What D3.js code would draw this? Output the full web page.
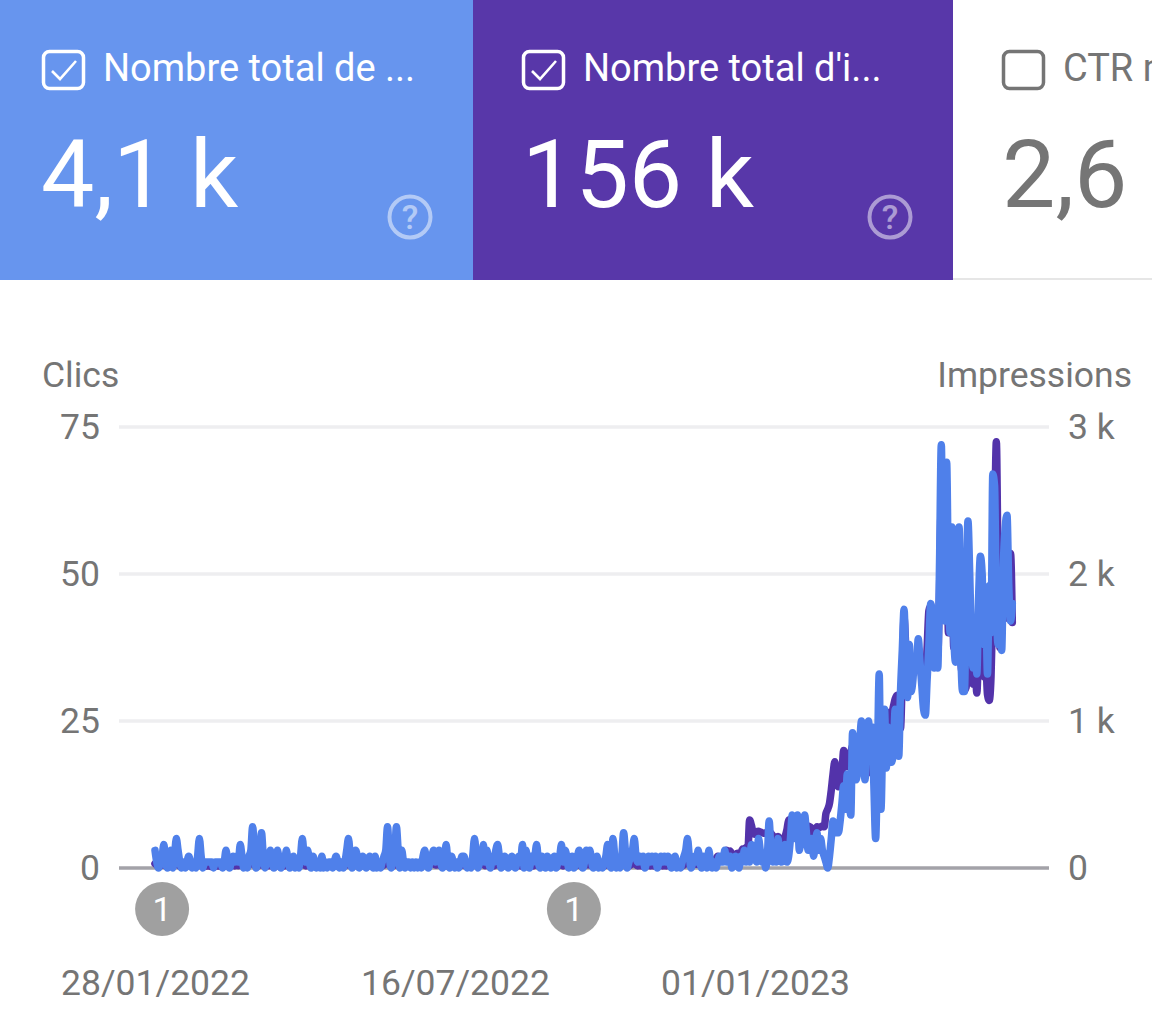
<!DOCTYPE html>
<html>
<head>
<meta charset="utf-8">
<script src="https://cdn.jsdelivr.net/npm/d3@7"></script>
<style>
    html, body { margin: 0; padding: 0; background: #fff; overflow: hidden; }
    svg { display: block; font-family: Roboto, sans-serif; }
    .tick line, .domain { display: none; }
    .tick text { font-family: Roboto, sans-serif; font-size: 35.5px; fill: #757575; }
</style>
</head>
<body>
<div id="chart"></div>
<script>
// Daily clicks, from 28/01/2022
const clicks = [
    3,1,0,1,2,4,1,0,1,3,0,2,5,3,1,0,1,0,1,2,
    1,0,1,0,2,5,2,0,1,1,1,1,1,0,1,1,1,1,0,1,
    3,1,0,1,2,1,2,1,4,2,0,1,0,2,3,7,3,0,1,2,
    6,2,0,1,1,3,1,0,1,3,1,0,2,1,3,1,0,1,2,0,
    1,0,2,5,2,1,3,1,0,2,1,0,1,0,2,0,1,0,1,1,
    0,1,2,1,0,1,0,1,3,5,2,0,1,3,2,0,1,2,1,0,
    1,2,1,0,2,0,1,0,1,2,3,7,2,0,1,2,7,3,0,3,
    1,0,1,1,0,1,0,1,0,1,0,2,3,1,0,1,2,3,1,2,
    3,1,0,1,4,1,0,2,1,0,1,0,1,2,2,1,0,1,0,2,
    5,2,0,1,1,4,1,3,1,0,2,1,3,4,2,0,1,2,1,0,
    1,2,1,0,1,2,1,4,0,3,1,0,2,1,2,4,1,0,2,1,
    0,2,1,0,1,2,0,1,2,4,1,3,2,0,1,2,0,1,2,3,
    1,0,1,3,2,3,1,0,1,2,0,1,0,1,2,4,1,0,5,2,
    0,1,0,2,6,3,0,1,2,3,5,2,1,2,1,2,0,1,2,1,
    2,1,2,0,1,2,1,2,1,2,1,0,1,2,0,1,0,1,2,3,
    5,2,0,1,2,1,3,1,0,2,1,0,3,1,0,1,0,1,2,1,
    1,3,1,2,2,0,1,2,1,0,2,1,3,1,2,1,4,3,2,1,
    5,3,1,2,0,2,8,3,1,2,1,5,2,1,3,4,1,2,5,9,
    6,5,9,3,5,4,9,6,3,3,5,2,4,6,3,5,3,2,1,0,
    2,5,8,7,6,6,8,11,14,10,16,12,9,23,20,15,17,21,25,20,
    15,22,25,20,24,14,5,18,33,10,22,27,17,24,22,18,20,27,25,19,
    30,37,44,35,29,38,30,32,36,34,39,35,31,27,26,32,38,45,43,34,
    42,34,52,72,45,42,69,48,40,58,40,35,50,58,37,30,30,45,59,50,
    38,34,40,33,46,53,50,38,45,33,48,40,67,65,45,38,50,37,52,58,
    60,48,42,45
];

// Daily impressions, same dates
const impressions = [
    30,20,10,15,25,40,15,8,20,35,12,25,40,28,12,8,14,10,18,30,
    15,10,14,8,25,40,20,8,12,14,15,12,10,8,12,15,14,12,8,14,
    30,15,8,14,22,14,24,15,35,20,8,14,10,22,30,50,28,8,14,22,
    45,22,8,14,15,30,14,8,12,30,15,8,22,14,30,15,8,14,22,10,
    14,8,22,40,24,14,30,14,8,22,14,8,14,10,20,8,14,10,14,12,
    10,14,22,14,8,14,10,14,30,40,22,10,14,28,22,10,14,22,14,10,
    14,22,14,10,22,10,14,10,14,22,30,50,24,10,14,22,55,30,10,30,
    14,10,14,15,10,14,10,14,10,14,10,25,30,20,35,50,55,35,20,25,
    30,15,10,14,35,14,10,22,14,10,14,10,14,22,24,14,10,14,10,22,
    40,50,70,60,30,35,15,30,14,10,22,14,30,35,22,10,14,22,14,10,
    14,22,14,10,14,22,14,35,10,30,14,10,22,14,22,35,14,10,22,14,
    10,22,14,10,14,22,10,14,22,35,14,30,22,10,14,22,10,14,22,30,
    14,10,14,30,22,30,14,10,14,22,10,14,10,14,22,35,25,30,40,35,
    60,70,65,50,50,35,20,14,22,30,40,22,14,22,14,22,10,14,22,14,
    22,14,22,10,14,22,14,22,14,22,14,10,14,22,10,14,10,14,22,30,
    40,30,15,20,35,25,50,30,15,40,60,45,70,50,30,45,60,80,60,70,
    80,100,120,110,115,90,70,85,100,70,95,130,110,140,120,326,290,240,230,247,
    250,245,240,236,240,230,225,236,220,210,205,215,200,195,190,215,260,326,330,320,
    300,320,310,300,330,320,300,290,285,280,270,230,190,280,275,280,285,280,370,400,
    440,530,640,723,620,553,580,650,800,750,690,720,780,830,760,700,760,825,780,700,
    720,640,700,780,850,900,700,600,950,820,980,850,1000,960,1060,1050,1100,1150,1176,1000,
    950,1300,1700,1500,1300,1450,1250,1350,1400,1350,1500,1400,1300,1210,1300,1500,1750,1780,1700,1550,
    1600,1450,1900,2500,1820,1700,2400,1600,1600,2000,1500,1500,1800,1900,1400,1300,1210,1230,1700,1500,
    1300,1250,1400,1190,1500,1650,1500,1300,1400,1180,1140,1300,1800,2300,2900,2000,1500,1700,1800,1900,
    1700,1900,2140,1670
];

const clickTicks = [0, 25, 50, 75];
const impressionTicks = [0, 1000, 2000, 3000];
const impressionTickLabels = ['0', '1 k', '2 k', '3 k'];
const dateTicks = ['2022-01-28', '2022-07-16', '2023-01-01'];
const annotationDates = ['2022-02-01', '2022-09-21'];

const cardTitles = ['Nombre total de ...', "Nombre total d'i...", 'CTR m'];
const cardValues = ['4,1 k', '156 k', '2,6'];
const cardChecked = [true, true, false];
const cardFills = ['#6795ee', '#5837a9', '#ffffff'];

const parseDate = d3.utcParse('%Y-%m-%d');
const startDate = parseDate(dateTicks[0]);
const formatDate = d3.utcFormat('%d/%m/%Y');
const dates = clicks.map((d, i) => d3.utcDay.offset(startDate, i));

const svg = d3.select('#chart').append('svg')
    .attr('width', 1152)
    .attr('height', 1034);

/*
** Scorecards
 */
const cardX = d3.scaleOrdinal().domain([0, 1, 2]).range([0, 473, 953]);
const cardW = d3.scaleOrdinal().domain([0, 1, 2]).range([473, 480, 199]);

const cards = svg.selectAll('g.card')
    .data(cardTitles)
    .join('g')
    .attr('class', 'card')
    .attr('transform', (d, i) => `translate(${cardX(i)},0)`);

cards.append('rect')
    .attr('width', (d, i) => cardW(i))
    .attr('height', 280)
    .attr('fill', (d, i) => cardFills[i]);

cards.append('rect')
    .attr('x', (d, i) => i === 0 ? 43.5 : 50.5)
    .attr('y', 51.5)
    .attr('width', 40)
    .attr('height', 37)
    .attr('rx', 6)
    .attr('fill', 'none')
    .attr('stroke', (d, i) => cardChecked[i] ? '#ffffff' : '#757575')
    .attr('stroke-width', 3.5);

cards.filter((d, i) => cardChecked[i]).append('path')
    .attr('d', (d) => {
        const ox = cardTitles.indexOf(d) === 1 ? 7 : 0;
        return `M${52 + ox} 71 L${60 + ox} 79 L${76 + ox} 61`;
    })
    .attr('fill', 'none')
    .attr('stroke', '#ffffff')
    .attr('stroke-width', 2.6);

cards.append('text')
    .attr('x', (d, i) => i === 0 ? 103 : 110)
    .attr('y', 81)
    .attr('font-size', 38)
    .attr('fill', (d, i) => cardChecked[i] ? '#ffffff' : '#757575')
    .text(d => d);

cards.append('text')
    .attr('x', (d, i) => i === 0 ? 41 : 49)
    .attr('y', 207)
    .attr('font-size', 95)
    .attr('fill', (d, i) => cardChecked[i] ? '#ffffff' : '#757575')
    .text((d, i) => cardValues[i]);

// Help icons on the two selected cards
const help = cards.filter((d, i) => cardChecked[i]).append('g')
    .attr('transform', (d) => `translate(${cardTitles.indexOf(d) === 1 ? 417 : 410},217)`)
    .attr('opacity', 0.5);

help.append('circle')
    .attr('r', 20.5)
    .attr('fill', 'none')
    .attr('stroke', '#ffffff')
    .attr('stroke-width', 4);

help.append('text')
    .attr('text-anchor', 'middle')
    .attr('y', 12)
    .attr('font-size', 34)
    .attr('font-weight', 500)
    .attr('fill', '#ffffff')
    .text('?');

// Thin rule under the unselected card
svg.append('rect')
    .attr('x', 953)
    .attr('y', 278)
    .attr('width', 199)
    .attr('height', 2)
    .attr('fill', '#e6e6e6');

/*
** Scales
 */
const x = d3.scaleUtc()
    .domain([startDate, dates[dates.length - 1]])
    .range([155, 155 + 1.775 * (dates.length - 1)]);
const yClicks = d3.scaleLinear().domain([0, 75]).range([868, 427]);
const yImpressions = d3.scaleLinear().domain([0, 3000]).range([868, 427]);

/*
** Grid lines and baseline
 */
svg.append('g')
    .selectAll('line')
    .data(clickTicks)
    .join('line')
    .attr('x1', 119)
    .attr('x2', 1049)
    .attr('y1', d => yClicks(d))
    .attr('y2', d => yClicks(d))
    .attr('stroke', d => d === 0 ? '#a3a2a8' : '#eeeef0')
    .attr('stroke-width', 3.5);

/*
** Axes
 */
svg.append('g')
    .attr('transform', 'translate(112,0)')
    .call(d3.axisLeft(yClicks).tickValues(clickTicks).tickSize(0).tickPadding(12));

svg.append('g')
    .attr('transform', 'translate(1056,0)')
    .call(d3.axisRight(yImpressions)
        .tickValues(impressionTicks)
        .tickFormat((d, i) => impressionTickLabels[i])
        .tickSize(0)
        .tickPadding(12));

svg.append('g')
    .attr('transform', 'translate(0,958)')
    .call(d3.axisBottom(x)
        .tickValues(dateTicks.map(parseDate))
        .tickFormat(formatDate)
        .tickSize(0)
        .tickPadding(12));

svg.append('text')
    .attr('x', 42)
    .attr('y', 387)
    .attr('font-size', 35.5)
    .attr('fill', '#757575')
    .text('Clics');

svg.append('text')
    .attr('x', 1132)
    .attr('y', 387)
    .attr('text-anchor', 'end')
    .attr('font-size', 35.5)
    .attr('fill', '#757575')
    .text('Impressions');

/*
** Series, impressions underneath
 */
const lineImpressions = d3.line()
    .x((d, i) => x(dates[i]))
    .y(d => yImpressions(d))
    .curve(d3.curveMonotoneX);

const lineClicks = d3.line()
    .x((d, i) => x(dates[i]))
    .y(d => yClicks(d))
    .curve(d3.curveMonotoneX);

svg.append('path')
    .datum(impressions)
    .attr('d', lineImpressions)
    .attr('fill', 'none')
    .attr('stroke', '#5333aa')
    .attr('stroke-width', 7.5)
    .attr('stroke-linejoin', 'round')
    .attr('stroke-linecap', 'round');

svg.append('path')
    .datum(clicks)
    .attr('d', lineClicks)
    .attr('fill', 'none')
    .attr('stroke', '#4f80ea')
    .attr('stroke-width', 7.5)
    .attr('stroke-linejoin', 'round')
    .attr('stroke-linecap', 'round');

/*
** Annotation markers
 */
const markers = svg.selectAll('g.marker')
    .data(annotationDates)
    .join('g')
    .attr('class', 'marker')
    .attr('transform', d => `translate(${x(parseDate(d))},909)`);

markers.append('circle')
    .attr('r', 27)
    .attr('fill', '#a0a0a0');

markers.append('text')
    .attr('text-anchor', 'middle')
    .attr('y', 12)
    .attr('font-size', 34)
    .attr('fill', '#ffffff')
    .text('1');
</script>
</body>
</html>
